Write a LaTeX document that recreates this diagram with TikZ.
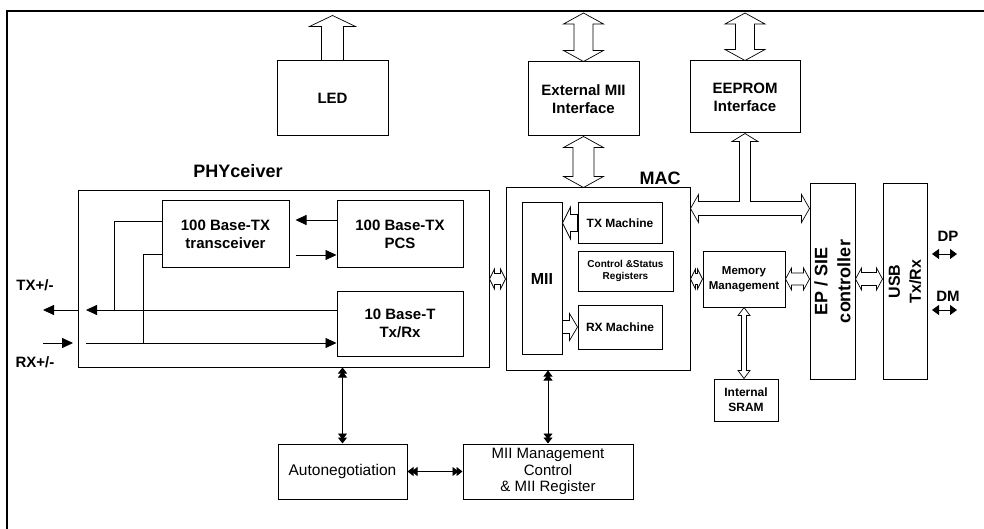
\documentclass[tikz,border=0pt]{standalone}
\usepackage{fontspec}
\setmainfont{Liberation Sans}
\usetikzlibrary{arrows.meta,calc}

\newcommand{\fsz}[2]{\fontsize{#1}{#2}\selectfont}

% hollow block arrows: (tip/end points, half shaft, half head, head length)
\newcommand{\hdarrow}[5]{%
  \draw[hollow] (#1) -- ($(#1)+(#5,-#4)$) -- ($(#1)+(#5,-#3)$) -- ($(#2)+(-#5,-#3)$)
    -- ($(#2)+(-#5,-#4)$) -- (#2) -- ($(#2)+(-#5,#4)$) -- ($(#2)+(-#5,#3)$)
    -- ($(#1)+(#5,#3)$) -- ($(#1)+(#5,#4)$) -- cycle;}
\newcommand{\vdarrow}[5]{%
  \draw[hollow] (#1) -- ($(#1)+(#4,#5)$) -- ($(#1)+(#3,#5)$) -- ($(#2)+(#3,-#5)$)
    -- ($(#2)+(#4,-#5)$) -- (#2) -- ($(#2)+(-#4,-#5)$) -- ($(#2)+(-#3,-#5)$)
    -- ($(#1)+(-#3,#5)$) -- ($(#1)+(-#4,#5)$) -- cycle;}
\newcommand{\vsarrow}[5]{%
  \draw[hollow] (#1) -- ($(#1)+(#4,#5)$) -- ($(#1)+(#3,#5)$) -- ($(#2)+(#3,0)$)
    -- ($(#2)+(-#3,0)$) -- ($(#1)+(-#3,#5)$) -- ($(#1)+(-#4,#5)$) -- cycle;}
\newcommand{\hsarrow}[6]{%
  \draw[hollow] (#1) -- ($(#1)+(#6*#5,#4)$) -- ($(#1)+(#6*#5,#3)$) -- ($(#2)+(0,#3)$)
    -- ($(#2)+(0,-#3)$) -- ($(#1)+(#6*#5,-#3)$) -- ($(#1)+(#6*#5,-#4)$) -- cycle;}

\tikzset{
  blk/.style={draw, line width=1pt, inner sep=0pt, align=center, font=\bfseries\fsz{15}{18}},
  lbl/.style={inner sep=0pt, align=center, font=\bfseries\fsz{15}{18}},
  sig/.style={line width=0.8pt},
  hollow/.style={draw, line width=0.7pt, fill=white, line join=miter},
  stip/.tip={Triangle[length=11pt,width=10pt]},
  dtip/.tip={Triangle[length=6pt,width=9pt,sep=-2pt] Triangle[length=6pt,width=9pt]},
  ptip/.tip={Triangle[length=7pt,width=10pt]},
}

\begin{document}
\begin{tikzpicture}[x=1pt,y=-1pt]
  \useasboundingbox (0,0) rectangle (984,529);
  % outer frame, only top and left edges
  \draw[line width=1.5pt] (7,529) -- (7,11) -- (984,11);
  \coordinate (topY) at (0,13);

  % top row
  \node[blk, minimum width=111, minimum height=75] (led) at (332.5,98.5) {LED};
  \node[blk, minimum width=111, minimum height=74] (ext) at (583.5,99) {External MII\\Interface};
  \node[blk, minimum width=110, minimum height=72] (eep) at (745,97) {EEPROM\\Interface};

  % PHYceiver
  \node[lbl, font=\bfseries\fsz{18}{20}] (phylbl) at (238,171) {PHYceiver};
  \node[blk, minimum width=411, minimum height=176] (phy) at (283.5,279) {};
  \node[blk, minimum width=127, minimum height=66] (trx) at (225.5,234) {100 Base-TX\\transceiver};
  \node[blk, minimum width=126, minimum height=66] (pcs) at (400,234) {100 Base-TX\\PCS};
  \node[blk, minimum width=126, minimum height=65] (tbt) at (400,323.5) {10 Base-T\\Tx/Rx};
  \node[lbl] (txlbl) at (35,285) {TX+/-};
  \node[lbl] (rxlbl) at (35,362) {RX+/-};

  % MAC
  \node[lbl, font=\bfseries\fsz{18}{20}] (maclbl) at (660,178) {MAC};
  \node[blk, minimum width=184, minimum height=182] (mac) at (598,279) {};
  \node[blk, minimum width=40, minimum height=151, font=\bfseries\fsz{16}{18}] (mii) at (542,278.5) {MII};
  \node[blk, minimum width=84, minimum height=40, font=\bfseries\fsz{12}{14}] (txm) at (620,223) {TX Machine};
  \node[blk, minimum width=95, minimum height=40, font=\bfseries\fsz{10}{12.5}] (csr) at (625.5,271) {Control \&Status\\Registers};
  \node[blk, minimum width=84, minimum height=44, font=\bfseries\fsz{12}{14}] (rxm) at (620,327) {RX Machine};

  % memory, usb side
  \node[blk, minimum width=82, minimum height=56, font=\bfseries\fsz{11.5}{15}] (mem) at (744,279) {Memory\\Management};
  \node[blk, minimum width=64, minimum height=42, font=\bfseries\fsz{12}{15}] (sram) at (746,400) {Internal\\SRAM};
  \node[blk, minimum width=45, minimum height=195] (ep) at (832.5,281.5) {};
  \node[lbl, rotate=90, font=\bfseries\fsz{18}{23}] (eptxt) at (ep.center) {EP / SIE\\controller};
  \node[blk, minimum width=44, minimum height=195] (usb) at (905,281.5) {};
  \node[lbl, rotate=90, font=\bfseries\fsz{16}{21}] (usbtxt) at (usb.center) {USB\\Tx/Rx};
  \node[lbl] (dplbl) at (948,236) {DP};
  \node[lbl] (dmlbl) at (948,296) {DM};

  % management blocks
  \node[blk, minimum width=129, minimum height=55, font=\fsz{15.5}{17}] (aneg) at (342.5,471.5) {Autonegotiation};
  \node[blk, minimum width=170, minimum height=55, font=\fsz{15}{16.5}] (mgmt) at (548,471.5) {MII Management\\Control\\\& MII Register};

  % block arrows
  \coordinate (ledT) at ($(led.north)+(0,-45)$);
  \coordinate (extT) at (ext.north |- topY);
  \coordinate (eepT) at (eep.north |- topY);
  \coordinate (extM) at (ext.south |- mac.north);
  \coordinate (memS) at (mem.south |- sram.north);
  \coordinate (memR) at (ep.west |- mem.east);
  \coordinate (epR) at (ep.east |- mem.east);
  \coordinate (usbL) at (usb.west |- mem.east);
  \coordinate (txT) at (mii.east |- txm.west);
  \coordinate (rxB) at (mii.east |- rxm.west);
  \vsarrow{ledT}{led.north}{11}{23}{11}
  \vdarrow{extT}{ext.north}{9.5}{20}{11}
  \vdarrow{ext.south}{extM}{10.5}{20}{11}
  \vdarrow{eepT}{eep.north}{9.5}{20}{11}
  \hdarrow{phy.east}{mac.west}{5.5}{10}{5}
  \hdarrow{mac.east}{mem.west}{5.5}{10}{5}
  \hdarrow{mem.east}{memR}{6}{11}{6}
  \hdarrow{epR}{usbL}{6.5}{11}{6}
  \vdarrow{mem.south}{memS}{2.5}{6}{8}
  \hsarrow{txT}{txm.west}{8.5}{16}{8}{1}
  \hsarrow{rxm.west}{rxB}{6.5}{13.5}{8}{-1}

  % EEPROM to bus (T shaped)
  \coordinate (busL) at ($(mac.north east)+(0,21)$);
  \coordinate (busR) at (ep.west |- busL);
  \coordinate (stemB) at (eep.south |- busL);
  \draw[hollow] (busL) -- ($(busL)+(8,-14)$) -- ($(busL)+(8,-7)$) -- ($(stemB)+(-5.5,-7)$)
    -- ($(eep.south)+(-5.5,8)$) -- ($(eep.south)+(-13,8)$) -- (eep.south)
    -- ($(eep.south)+(13,8)$) -- ($(eep.south)+(5.5,8)$) -- ($(stemB)+(5.5,-7)$)
    -- ($(busR)+(-8,-7)$) -- ($(busR)+(-8,-14)$) -- (busR) -- ($(busR)+(-8,14)$)
    -- ($(busR)+(-8,7)$) -- ($(busL)+(8,7)$) -- ($(busL)+(8,14)$) -- cycle;

  % PHY signal lines
  \coordinate (txa) at ($(tbt.west)+(0,-13.5)$);
  \coordinate (txb) at (86,310);
  \coordinate (txo) at (43,310);
  \coordinate (tap) at (114,310);
  \coordinate (rxa) at (86,343);
  \coordinate (rxb) at ($(tbt.west)+(0,19.5)$);
  \coordinate (rxo) at (43,343);
  \coordinate (rxi) at (73,343);
  \coordinate (brk) at (143,343);
  \draw[sig, -stip] ($(pcs.west)+(0,-14)$) -- ($(trx.east)+(6,-14)$);
  \draw[sig, -stip] ($(trx.east)+(6,21)$) -- ($(pcs.west)+(0,21)$);
  \draw[sig, -stip] (txa) -- (txb);
  \draw[sig] ($(trx.west)+(0,-13)$) -| (tap);
  \draw[sig, -stip] (phy.west |- txa) -- (txo);
  \draw[sig, -stip] (rxo) -- (rxi);
  \draw[sig, -stip] (rxa) -- (rxb);
  \draw[sig] (brk) |- ($(trx.west)+(0,20)$);

  % management links
  \draw[sig, dtip-dtip] (aneg.north |- phy.south) -- (aneg.north);
  \draw[sig, dtip-dtip] (mgmt.north |- mac.south) -- (mgmt.north);
  \draw[sig, dtip-dtip] (aneg.east) -- (mgmt.west);

  % USB pins
  \coordinate (dpL) at (932,254);
  \coordinate (dpR) at (957,254);
  \coordinate (dmL) at (932,310);
  \coordinate (dmR) at (957,310);
  \draw[sig, ptip-ptip] (dpL) -- (dpR);
  \draw[sig, ptip-ptip] (dmL) -- (dmR);
\end{tikzpicture}
\end{document}
